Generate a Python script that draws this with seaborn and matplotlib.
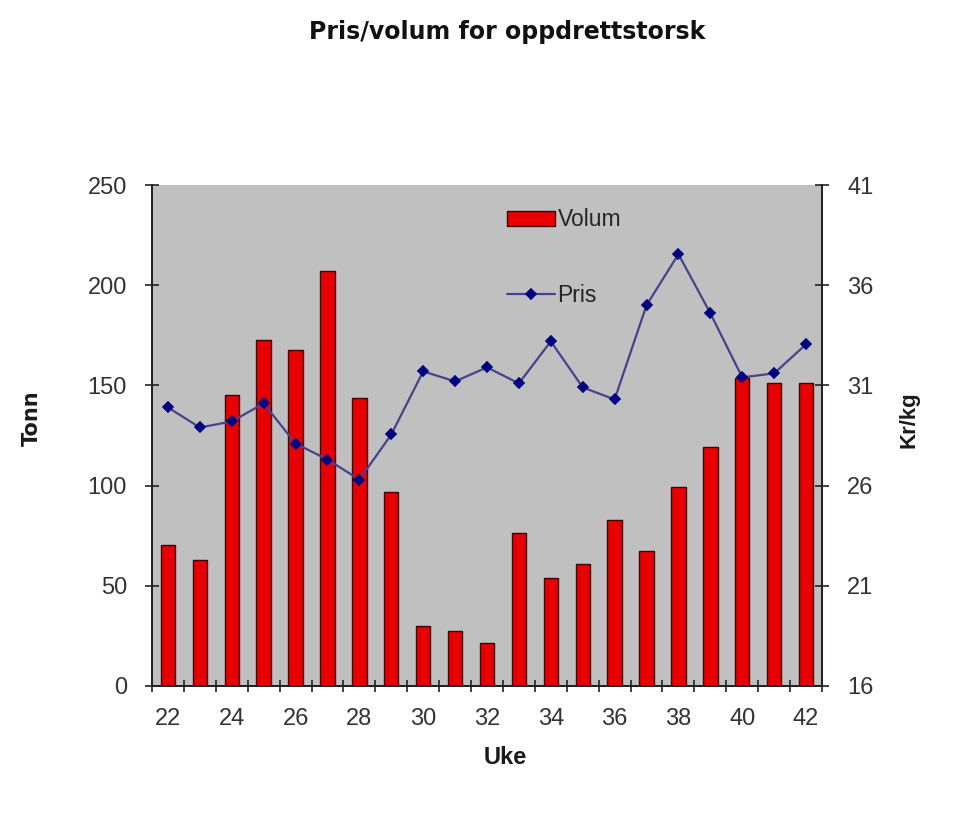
import matplotlib
matplotlib.use("Agg")
import matplotlib.pyplot as plt
import seaborn as sns
import numpy as np
import pandas as pd

# data
uker = [22, 23, 24, 25, 26, 27, 28, 29, 30, 31, 32,
        33, 34, 35, 36, 37, 38, 39, 40, 41, 42]
volum = [70.5, 62.7, 145, 172.5, 167.5, 207, 143.5, 97, 30, 27.4, 21.5,
         76.3, 54, 61, 82.6, 67.2, 99.2, 119.4, 153.7, 151, 151]
pris = [29.9, 28.9, 29.2, 30.1, 28.1, 27.3, 26.3, 28.55, 31.7, 31.2, 31.9,
        31.1, 33.2, 30.9, 30.3, 35.0, 37.55, 34.6, 31.4, 31.6, 33.05]

df = pd.DataFrame({"Uke": [str(u) for u in uker], "Volum": volum, "Pris": pris})

sns.set_theme(style="white")
plt.rcParams["font.family"] = ["Liberation Sans", "DejaVu Sans"]

fig = plt.figure(figsize=(9.6, 8.14), dpi=100)
ax = fig.add_axes([152 / 960, 1 - 686 / 814, 670 / 960, 501 / 814])
ax.set_facecolor("#c0c0c0")

sns.barplot(data=df, x="Uke", y="Volum", ax=ax, color="#e80000",
            edgecolor="#400000", linewidth=1.0, width=0.45, saturation=1,
            label="Volum")

ax2 = ax.twinx()
sns.pointplot(data=df, x="Uke", y="Pris", ax=ax2, color="#44448a",
              markers="D", markersize=5.5, linewidth=1.6, label="Pris")
for ln in ax2.lines:
    ln.set_markerfacecolor("#000080")
    ln.set_markeredgecolor("#000080")

ax.set_xlim(-0.5, len(uker) - 0.5)
ax.set_ylim(0, 250)
ax.set_yticks(np.arange(0, 251, 50))
ax2.set_ylim(16, 41)
ax2.set_yticks(np.arange(16, 42, 5))

# labels on every second week, tick marks between the bars
lbl_pos = np.arange(0, len(uker), 2)
ax.set_xticks(lbl_pos)
ax.set_xticklabels([str(uker[i]) for i in lbl_pos])
ax.set_xticks(np.arange(-0.5, len(uker), 1), minor=True)
ax.tick_params(axis="x", which="major", length=0, pad=16,
               labelsize=17, labelcolor="#333333")
ax.tick_params(axis="x", which="minor", direction="inout", length=9,
               width=1.2, color="#222222", bottom=True)
ax.tick_params(axis="y", direction="inout", length=10, width=1.2,
               color="#222222", labelsize=17, labelcolor="#333333", pad=13,
               left=True)
ax2.tick_params(axis="y", direction="inout", length=10, width=1.2,
                color="#222222", labelsize=17, labelcolor="#333333", pad=13,
                right=True)

for a in (ax, ax2):
    a.spines["top"].set_visible(False)
    for s in ("left", "right", "bottom"):
        a.spines[s].set_color("#222222")
        a.spines[s].set_linewidth(1.4)
    a.grid(False)

ax.set_xlabel("")
ax.set_ylabel("")
ax2.set_ylabel("")
fig.text(507 / 960, 1 - 32 / 814, "Pris/volum for oppdrettstorsk",
         ha="center", va="center", fontsize=17, fontweight="bold",
         family="DejaVu Sans", color="#111111")
fig.text(505 / 960, 1 - 757 / 814, "Uke", ha="center", va="center",
         fontsize=17, fontweight="bold", color="#1a1a1a")
fig.text(32 / 960, 1 - 418 / 814, "Tonn", ha="center", va="center",
         rotation=90, fontsize=15, fontweight="bold", color="#1a1a1a",
         family="DejaVu Sans")
fig.text(909 / 960, 1 - 420 / 814, "Kr/kg", ha="center", va="center",
         rotation=90, fontsize=16, fontweight="bold", color="#1a1a1a")

ax.legend(loc="center left", bbox_to_anchor=(507 / 960, 1 - 220 / 814),
          bbox_transform=fig.transFigure, frameon=False, fontsize=16.5,
          handlelength=2.1, handleheight=0.6, handletextpad=0.1,
          borderpad=0, borderaxespad=0)
ax2.legend(loc="center left", bbox_to_anchor=(507 / 960, 1 - 296 / 814),
           bbox_transform=fig.transFigure, frameon=False, fontsize=16.5,
           handlelength=2.1, handletextpad=0.1, borderpad=0, borderaxespad=0)

fig.savefig("out.png", dpi=100, facecolor="white")
plt.close(fig)
